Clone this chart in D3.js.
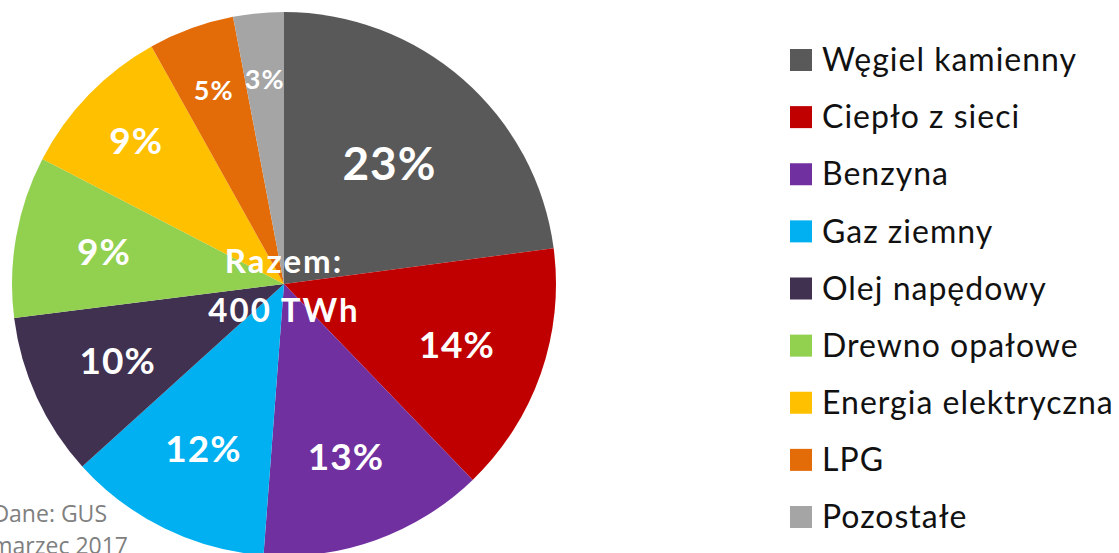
<!DOCTYPE html>
<html>
<head>
<meta charset="utf-8">
<script src="https://cdnjs.cloudflare.com/ajax/libs/d3/7.8.5/d3.min.js"></script>
<style>
  body { margin: 0; background: #fff; }
  svg { display: block; }
</style>
</head>
<body>
<svg></svg>
<script>
// shares of final energy use (percent)
let categories = ["Węgiel kamienny", "Ciepło z sieci", "Benzyna", "Gaz ziemny", "Olej napędowy",
                  "Drewno opałowe", "Energia elektryczna", "LPG", "Pozostałe"];
let values = [22.9, 14.9, 13.4, 12.1, 9.7, 9.6, 9.3, 5.1, 3.0];
let pctLabels = ["23%", "14%", "13%", "12%", "10%", "9%", "9%", "5%", "3%"];
let colors = ["#595959", "#C00000", "#7030A0", "#00B0F0", "#403151",
              "#92D050", "#FFC000", "#E36C09", "#A5A5A5"];
let totalLabel = ["Razem:", "400 TWh"];
let sourceLines = ["Dane: GUS", "marzec 2017"];

let svgWidth = 1119, svgHeight = 553;
let cx = 284, cy = 284, radius = 272;

let svg = d3.select("svg")
    .attr("width", svgWidth)
    .attr("height", svgHeight);

let data = categories.map(function (c, i) {
    return { name: c, value: values[i], label: pctLabels[i], color: colors[i] };
});

let pie = d3.pie()
    .sort(null)
    .value(function (d) { return d.value });

let arc = d3.arc()
    .innerRadius(0)
    .outerRadius(radius);

// label ring: biggest slice sits closer in, thin slices further out
function labelRadius(d) {
    if (d.index === 0) return 160;
    if (d.data.value < 9.5) return 206;
    return 183;
}

let g = svg.append("g")
    .attr("transform", "translate(" + cx + "," + cy + ")");

let arcs = pie(data);

g.selectAll("path")
    .data(arcs)
    .enter().append("path")
    .attr("d", arc)
    .attr("fill", function (d) { return d.data.color });

g.selectAll("text.pct")
    .data(arcs)
    .enter().append("text")
    .attr("class", "pct")
    .attr("transform", function (d) {
        let r = labelRadius(d);
        let c = d3.arc().innerRadius(r).outerRadius(r).centroid(d);
        return "translate(" + c[0] + "," + c[1] + ")";
    })
    .attr("text-anchor", "middle")
    .attr("dy", "0.36em")
    .attr("fill", "#fff")
    .attr("font-family", "Lato, 'Open Sans', sans-serif")
    .attr("font-weight", "bold")
    .attr("letter-spacing", "1px")
    .attr("font-size", function (d) {
        if (d.index === 0) return "46px";
        if (d.data.value < 8) return "27px";
        return "37px";
    })
    .text(function (d) { return d.data.label });

g.selectAll("text.total")
    .data(totalLabel)
    .enter().append("text")
    .attr("class", "total")
    .attr("x", 0)
    .attr("y", function (d, i) { return -23 + i * 49 })
    .attr("dy", "0.36em")
    .attr("text-anchor", "middle")
    .attr("fill", "#fff")
    .attr("font-family", "Lato, 'Open Sans', sans-serif")
    .attr("font-weight", "bold")
    .attr("font-size", "33px")
    .attr("letter-spacing", "2px")
    .text(function (d) { return d });

// legend
let legendY = d3.scalePoint()
    .domain(categories)
    .range([60, 517]);

let legend = svg.append("g");

let item = legend.selectAll("g")
    .data(data)
    .enter().append("g")
    .attr("transform", function (d) { return "translate(790," + legendY(d.name) + ")" });

item.append("rect")
    .attr("x", 0)
    .attr("y", -11)
    .attr("width", 22)
    .attr("height", 22)
    .attr("fill", function (d) { return d.color });

item.append("text")
    .attr("x", 32)
    .attr("dy", "0.35em")
    .attr("fill", "#111")
    .attr("font-family", "Lato, 'Open Sans', sans-serif")
    .attr("font-size", "32px")
    .attr("letter-spacing", "1px")
    .text(function (d) { return d.name });

// source note, cut off at the left and bottom edges as in the original
svg.selectAll("text.src")
    .data(sourceLines)
    .enter().append("text")
    .attr("class", "src")
    .attr("x", function (d, i) { return i === 0 ? 107 : 128 })
    .attr("y", function (d, i) { return 522 + i * 32 })
    .attr("text-anchor", "end")
    .attr("fill", "#808080")
    .attr("font-family", "'Open Sans', sans-serif")
    .attr("font-size", "23px")
    .text(function (d) { return d });
</script>
</body>
</html>
